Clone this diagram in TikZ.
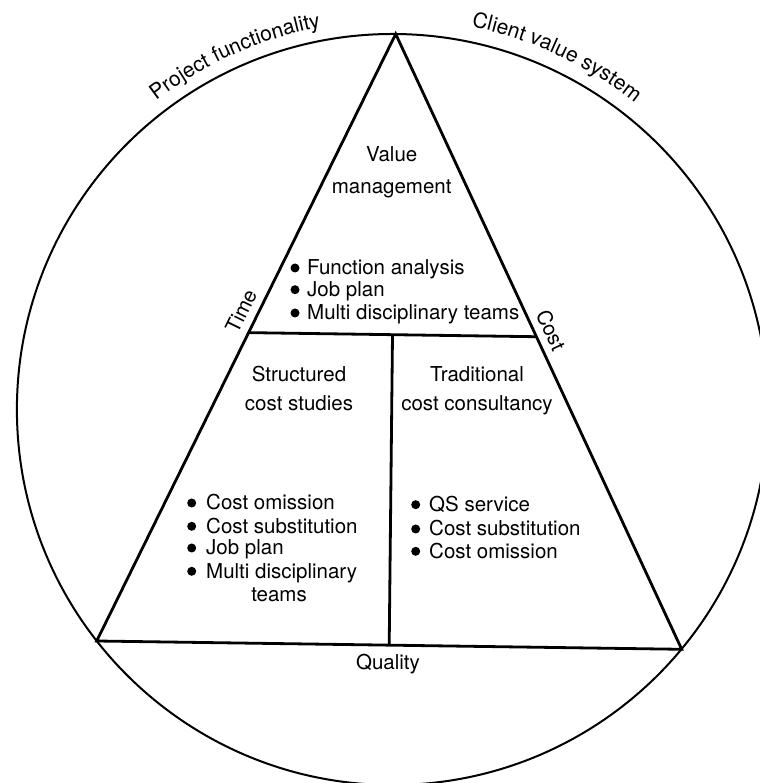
\documentclass[tikz,border=0pt]{standalone}
\usepackage{fontspec}
\setmainfont{TeX Gyre Heros}
\usetikzlibrary{decorations.text,calc}
\begin{document}
\begin{tikzpicture}[x=1pt,y=1pt,
  lbl/.style={font=\fontsize{20.5}{24}\selectfont, inner sep=0pt},
  edge/.style={line width=2.8pt, line join=miter},
  rim/.style={line width=2pt},
  dot/.style={circle, fill=black, inner sep=0pt, minimum size=9pt}]
\useasboundingbox (0,0) rectangle (759,783);
\coordinate (C) at (392.4,373.5);
\coordinate (A) at (395.7,749);
\coordinate (BL) at (96.7,142);
\coordinate (BR) at (681.7,133.7);
\draw[rim] (C) circle (375.5);
\draw[edge] (A) -- (BL) -- (BR) -- cycle;
\coordinate (H1) at ($(BL)!0.508!(A)$);
\coordinate (H2) at ($(BR)!0.508!(A)$);
\draw[edge] (H1) -- (H2);
\coordinate (V1) at ($(H1)!0.5!(H2)$);
\coordinate (V2) at ($(BL)!0.5!(BR)$);
\draw[edge] (V1) -- (V2);
% arc texts
\path[decorate, decoration={text along path, text align=center,
  text={|\fontsize{21}{24}\selectfont|Project functionality}}]
  ($(C)+(144:389)$) arc[start angle=144, end angle=84, radius=389];
\path[decorate, decoration={text along path, text align=center,
  text={|\fontsize{21}{24}\selectfont|Client value system}}]
  ($(C)+(95:391)$) arc[start angle=95, end angle=35, radius=391];
% side labels
\node[lbl, rotate=63.8] (time) at (241,472) {Time};
\node[lbl, rotate=-65] (cost) at (551,453) {Cost};
\node[lbl, anchor=base] (quality) at (388,113) {Quality};
% top block
\node[lbl, anchor=base] (vm1) at (391.7,621.3) {Value};
\node[lbl, anchor=base] (vm2) at (391.7,589.7) {management};
\node[dot] (tb1) at (295,515) {};
\node[lbl, anchor=base west] (t1) at (307,508) {Function analysis};
\node[dot] (tb2) at (295,493.3) {};
\node[lbl, anchor=base west] (t2) at (307,486.3) {Job plan};
\node[dot] (tb3) at (295,470) {};
\node[lbl, anchor=base west] (t3) at (307,463) {Multi disciplinary teams};
% lower left block
\node[lbl, anchor=base] (s1) at (299,401.3) {Structured};
\node[lbl, anchor=base] (s2) at (299,372) {cost studies};
\node[dot] (lb1) at (191.7,280) {};
\node[lbl, anchor=base west] (l1) at (206,273) {Cost omission};
\node[dot] (lb2) at (191.7,256.7) {};
\node[lbl, anchor=base west] (l2) at (206,249.7) {Cost substitution};
\node[dot] (lb3) at (191.7,235) {};
\node[lbl, anchor=base west] (l3) at (206,228) {Job plan};
\node[dot] (lb4) at (191.7,211.7) {};
\node[lbl, anchor=base west] (l4) at (206,204.7) {Multi disciplinary};
\node[lbl, anchor=base east] (l5) at (307,181.3) {teams};
% lower right block
\node[lbl, anchor=base] (r1) at (477,401.3) {Traditional};
\node[lbl, anchor=base] (r2) at (477,372) {cost consultancy};
\node[dot] (rb1) at (415.7,278.3) {};
\node[lbl, anchor=base west] (q1) at (429,271.3) {QS service};
\node[dot] (rb2) at (415.7,254) {};
\node[lbl, anchor=base west] (q2) at (429,247) {Cost substitution};
\node[dot] (rb3) at (415.7,231.7) {};
\node[lbl, anchor=base west] (q3) at (429,224.7) {Cost omission};
\end{tikzpicture}
\end{document}
